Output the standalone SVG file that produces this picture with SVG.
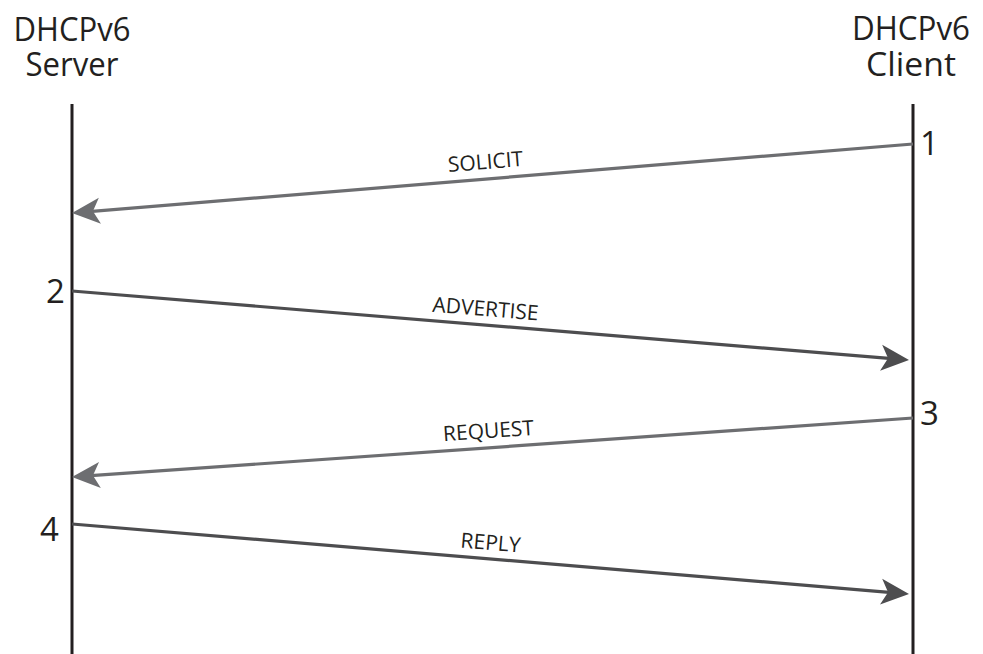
<svg xmlns="http://www.w3.org/2000/svg" width="983" height="654" viewBox="0 0 983 654">
<style>
.title{font-family:"Open Sans","Noto Sans",sans-serif;font-size:32px;fill:#231f20;text-anchor:middle}
.num{font-family:"Open Sans","Noto Sans",sans-serif;font-size:33px;fill:#231f20}
.lbl{font-family:"Open Sans","Noto Sans",sans-serif;font-size:21px;fill:#231f20;text-anchor:middle}
.life{stroke:#231f20;stroke-width:3;fill:none}
.light{stroke:#6d6e71;stroke-width:3.2;fill:none}
.dark{stroke:#4d4d4f;stroke-width:3.2;fill:none}
</style>
<defs>
<marker id="ahL" markerUnits="userSpaceOnUse" markerWidth="30" markerHeight="30" viewBox="0 -15 30 30" refX="20" refY="0" orient="auto"><path d="M28,0 L0,-13 L7,0 L0,13 Z" fill="#6d6e71"/></marker>
<marker id="ahD" markerUnits="userSpaceOnUse" markerWidth="30" markerHeight="30" viewBox="0 -15 30 30" refX="20" refY="0" orient="auto"><path d="M28,0 L0,-13 L7,0 L0,13 Z" fill="#4d4d4f"/></marker>
</defs>
<rect width="983" height="654" fill="#fff"/>
<g id="server">
<text class="title" x="72" y="41" textLength="117" lengthAdjust="spacingAndGlyphs">DHCPv6</text>
<text class="title" x="72" y="76" textLength="93" lengthAdjust="spacingAndGlyphs">Server</text>
<line class="life" x1="72" y1="104" x2="72" y2="654"/>
<text class="num" x="46" y="303">2</text>
<text class="num" x="40" y="541">4</text>
</g>
<g id="client">
<text class="title" x="911" y="40" textLength="118" lengthAdjust="spacingAndGlyphs">DHCPv6</text>
<text class="title" x="911" y="76" textLength="90" lengthAdjust="spacingAndGlyphs">Client</text>
<line class="life" x1="913" y1="104" x2="913" y2="654"/>
<text class="num" x="920" y="155">1</text>
<text class="num" x="920" y="425">3</text>
</g>
<g id="connectors">
<g id="solicit">
<line class="light" x1="913" y1="144" x2="79.97" y2="212.35" marker-end="url(#ahL)"/>
<text class="lbl" x="486" y="169" transform="rotate(-4.69 486 169)">SOLICIT</text>
</g>
<g id="advertise">
<line class="dark" x1="72" y1="291" x2="901.03" y2="359.34" marker-end="url(#ahD)"/>
<text class="lbl" x="485" y="316" transform="rotate(4.71 485 316)">ADVERTISE</text>
</g>
<g id="request">
<line class="light" x1="913" y1="418" x2="79.98" y2="476.44" marker-end="url(#ahL)"/>
<text class="lbl" x="489" y="438" transform="rotate(-4.01 489 438)">REQUEST</text>
</g>
<g id="reply">
<line class="dark" x1="72" y1="524" x2="901.03" y2="593.33" marker-end="url(#ahD)"/>
<text class="lbl" x="490" y="550" transform="rotate(4.78 490 550)">REPLY</text>
</g>
</g>
</svg>
